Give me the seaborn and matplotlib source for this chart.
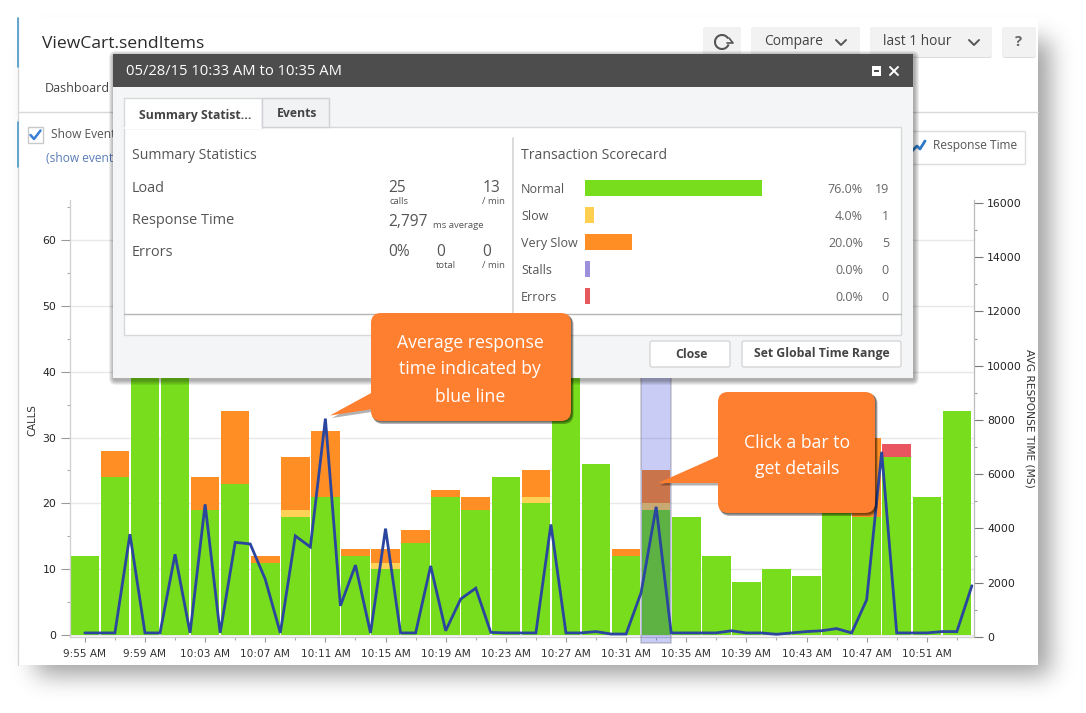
import math
import numpy as np
import pandas as pd
import matplotlib
matplotlib.use("Agg")
import matplotlib.pyplot as plt
from matplotlib.patches import FancyBboxPatch, Rectangle, Polygon, Arc
import seaborn as sns

W, H = 1086, 713

bar_times = ["9:55 AM", "9:57 AM", "9:59 AM", "10:01 AM", "10:03 AM", "10:05 AM", "10:07 AM", "10:09 AM",
             "10:11 AM", "10:13 AM", "10:15 AM", "10:17 AM", "10:19 AM", "10:21 AM", "10:23 AM", "10:25 AM",
             "10:27 AM", "10:29 AM", "10:31 AM", "10:33 AM", "10:35 AM", "10:37 AM", "10:39 AM", "10:41 AM",
             "10:43 AM", "10:45 AM", "10:47 AM", "10:49 AM", "10:51 AM", "10:53 AM"]
normal = [12, 24, 48, 46, 19, 23, 11, 18, 21, 12, 10, 14, 21, 19, 24, 20, 44, 26, 12, 19, 18, 12, 8, 10, 9, 20, 18, 27, 21, 34]
slow = [0, 0, 0, 0, 0, 0, 0, 1, 0, 0, 1, 0, 0, 0, 0, 1, 0, 0, 0, 1, 0, 0, 0, 0, 0, 0, 0, 0, 0, 0]
very_slow = [0, 4, 0, 0, 5, 11, 1, 8, 10, 1, 2, 2, 1, 2, 0, 4, 0, 0, 1, 5, 0, 0, 0, 0, 0, 0, 12, 0, 0, 0]
errors = [0, 0, 0, 0, 0, 0, 0, 0, 0, 0, 0, 0, 0, 0, 0, 0, 0, 0, 0, 0, 0, 0, 0, 0, 0, 0, 0, 2, 0, 0]

# one point per minute, so two for every bar
response_ms = [150, 150, 150, 3790, 150, 150, 3050, 150, 4890, 150, 3490, 3430, 2130, 150, 3725,
               3320, 8050, 1150, 2650, 150, 3995, 150, 150, 2620, 230, 1400, 1800, 170, 150, 150,
               150, 4150, 150, 150, 200, 110, 110, 1640, 4800, 150, 150, 150, 150, 230, 150,
               150, 100, 150, 200, 230, 310, 150, 1370, 6825, 150, 150, 150, 200, 200, 1890]

selected_bar = "10:33 AM"

score_names = ["Normal", "Slow", "Very Slow", "Stalls", "Errors"]
score_pct = [76.0, 4.0, 20.0, 0.0, 0.0]
score_calls = [19, 1, 5, 0, 0]
score_colors = ["#77dd1c", "#ffcf4f", "#ff8f25", "#9c8fdb", "#e65a5f"]

GREEN, YELLOW, ORANGE, RED = "#77dd1c", "#ffd257", "#ff8f25", "#e9565f"
CALLOUT = "#ff7f30"
UI_FONT = "Open Sans"

sns.set_theme(style="white")
plt.rcParams["font.family"] = ["DejaVu Sans"]

fig = plt.figure(figsize=(W / 100, H / 100), dpi=100, facecolor="white")


def px_axes(z):
    a = fig.add_axes([0, 0, 1, 1], zorder=z)
    a.set_xlim(0, W)
    a.set_ylim(H, 0)
    a.axis("off")
    a.patch.set_alpha(0)
    return a


def box(a, x0, y0, x1, y1, fc, ec="none", lw=1, r=0, z=1, alpha=None):
    if r:
        p = FancyBboxPatch((x0 + r, y0 + r), x1 - x0 - 2 * r, y1 - y0 - 2 * r, boxstyle=f"round,pad={r}",
                           fc=fc, ec=ec, lw=lw, zorder=z, alpha=alpha)
    else:
        p = Rectangle((x0, y0), x1 - x0, y1 - y0, fc=fc, ec=ec, lw=lw, zorder=z, alpha=alpha)
    a.add_patch(p)


def soft_shadow(a, x0, y0, x1, y1, spread, dx, dy, z, alpha=0.006):
    for s in range(spread, 0, -1):
        box(a, x0 + dx - s, y0 + dy - s, x1 + dx + s, y1 + dy + s, "black", r=s + 2, z=z, alpha=alpha)


def label(a, x, y, s, px=13, color="#555555", ha="left", va="center", weight="normal", z=20, **kw):
    a.text(x, y + 1.5, s, fontsize=px * 0.72, color=color, ha=ha, va=va, weight=weight, zorder=z,
           family=UI_FONT, **kw)


def blurred_rect(x0, y0, x1, y1, sigma, strength):
    # gaussian blurred rectangle as a grey rgba image
    phi = np.vectorize(lambda d: 0.5 * (1 + math.erf(d / (sigma * math.sqrt(2)))))
    xs, ys = np.arange(W) + 0.5, np.arange(H) + 0.5
    fx = phi(xs - x0) - phi(xs - x1)
    fy = phi(ys - y0) - phi(ys - y1)
    img = np.zeros((H, W, 4))
    img[..., 3] = strength * np.outer(fy, fx)
    return img


# page card behind the chart
bg = px_axes(0)
bg.imshow(blurred_rect(36, 40, 1050, 675, 12, 0.38), extent=(0, W, H, 0), aspect="auto", zorder=1)
bg.set_xlim(0, W)
bg.set_ylim(H, 0)
box(bg, 18, 18, 1038, 665, "white", z=2)
bg.plot([18, 1038], [112, 112], color="#d9d9d9", lw=1, zorder=3)
bg.plot([17.5, 17.5], [18, 665], color="#d5d5d5", lw=0.9, zorder=3)
bg.plot([17.5, 17.5], [18, 67], color="#4a9ac8", lw=1.2, zorder=4)
bg.plot([17.5, 17.5], [122, 167], color="#4a9ac8", lw=1.2, zorder=4)

# main chart, left axis calls, right axis response time
ax = fig.add_axes([69.5 / W, 1 - 637 / H, (974 - 69.5) / W, (637 - 200) / H], zorder=1)
ax.patch.set_alpha(0)

bars = pd.DataFrame({"time": bar_times, "normal": normal, "slow": slow, "very_slow": very_slow, "errors": errors})
bottom = np.zeros(len(bars))
for col, c in [("normal", GREEN), ("slow", YELLOW), ("very_slow", ORANGE), ("errors", RED)]:
    sns.barplot(data=bars, x="time", y=col, color=c, saturation=1, width=0.95, bottom=bottom, ax=ax,
                zorder=2, linewidth=0)
    bottom = bottom + bars[col].to_numpy()

ax.set_xlim(-0.51, 29.57)
ax.set_ylim(-0.3, 66.08)
ax.set_xticks(range(0, len(bar_times), 2))
ax.set_xticklabels(bar_times[::2])
ax.set_xticks(range(1, len(bar_times), 2), minor=True)
ax.set_yticks(range(0, 70, 10))
ax.set_yticks(range(5, 70, 10), minor=True)
ax.set_xlabel("")
ax.set_ylabel("CALLS", fontsize=7.4, color="#333333", va="center")
ax.yaxis.set_label_coords(-0.0405, 0.4966)
ax.grid(axis="y", color="#e8e8e8", lw=1)
ax.set_axisbelow(True)
ax.tick_params(axis="x", which="major", length=3.6, width=0.8, color="#999999", labelsize=7.6, labelcolor="#333333", pad=5, bottom=True)
ax.tick_params(axis="x", which="minor", length=2, width=0.8, color="#aaaaaa", bottom=True)
ax.tick_params(axis="y", which="major", length=6.5, width=0.8, color="#999999", labelsize=7.8, labelcolor="#222222", pad=3, left=True)
ax.tick_params(axis="y", which="minor", length=2, width=0.8, color="#aaaaaa", left=True)
for s in ["top", "right"]:
    ax.spines[s].set_visible(False)
for s in ["left", "bottom"]:
    ax.spines[s].set_color("#cfcfcf")
    ax.spines[s].set_linewidth(0.9)

sel = bar_times.index(selected_bar)
ax.axvspan(sel - 0.49, sel + 0.49, ymin=-0.014, ymax=1, clip_on=False, zorder=3,
           facecolor=(0.0, 0.08, 0.85, 0.21), edgecolor=(0.45, 0.45, 0.5, 0.35), lw=1.2)

ax2 = ax.twinx()
ax2.set_zorder(2)
ax2.patch.set_alpha(0)
line = pd.DataFrame({"slot": np.arange(len(response_ms)) / 2, "ms": response_ms})
sns.lineplot(data=line, x="slot", y="ms", color="#2a469f", lw=2.0, errorbar=None, ax=ax2, solid_joinstyle="miter")
ax2.set_ylim(36.8, 16109)
ax2.set_yticks(range(0, 16001, 2000))
ax2.set_yticks(range(1000, 16000, 2000), minor=True)
ax2.set_xlabel("")
ax2.set_ylabel("AVG RESPONSE TIME (MS)", fontsize=7.7, color="#333333", rotation=270, va="center")
ax2.yaxis.set_label_coords(1.0615, 0.501)
ax2.tick_params(axis="y", which="major", length=6.5, width=0.8, color="#777777", labelsize=7.8, labelcolor="#222222", pad=3, right=True)
ax2.tick_params(axis="y", which="minor", length=2, width=0.8, color="#999999", right=True)
for s in ["top", "left", "bottom"]:
    ax2.spines[s].set_visible(False)
ax2.spines["right"].set_color("#bbbbbb")
ax2.spines["right"].set_linewidth(0.9)

# screen elements on top of the chart
ui = px_axes(5)

# header, everything here sits under the dialog
label(ui, 42, 42, "ViewCart.sendItems", px=17.5, color="#2b2b2b", z=4)
label(ui, 45, 87, "Dashboard", px=12.5, color="#444444", z=4)
for x0, x1 in [(703, 741), (751, 860), (870, 992), (1002.5, 1036)]:
    box(ui, x0, 27, x1, 58, "#dcdcdc", r=3, z=2)
    box(ui, x0, 27, x1, 57, "#f2f2f2", r=3, z=3)
label(ui, 764, 40, "Compare", px=13.8, color="#444444", z=4)
label(ui, 883, 40, "last 1 hour", px=13.8, color="#444444", z=4)
label(ui, 1019, 41, "?", px=15, color="#666666", ha="center", weight="bold", z=4)
for cx in [841, 974]:
    ui.plot([cx - 5, cx, cx + 5], [40, 45, 40], color="#555555", lw=1.4, zorder=4)
ui.add_patch(Arc((722, 42), 14, 14, theta1=20, theta2=330, color="#555555", lw=1.5, zorder=4))
ui.plot([727, 733, 729], [43, 43, 38], color="#555555", lw=1.2, zorder=4)

# show events + legend
box(ui, 27.5, 127, 43, 143, "white", ec="#c9c9c9", z=3)
ui.plot([30.5, 34, 40.5], [135, 139, 130.5], color="#3a7fd5", lw=1.8, zorder=4)
label(ui, 51, 132.5, "Show Events", px=12, color="#555555", z=4)
label(ui, 46, 157.5, "(show events", px=12, color="#5b7db8", z=4)
box(ui, 905, 131, 1025, 164, "white", ec="#dddddd", z=3)
ui.plot([912, 917, 920, 925], [151, 146, 149, 141], color="#2f78c8", lw=2, zorder=4)
label(ui, 933, 143.5, "Response Time", px=12, color="#555555", z=4)

# dialog
soft_shadow(ui, 113, 54, 913, 378, 5, 1, 2, 6, alpha=0.07)
box(ui, 113, 54, 913, 378, "#f4f5f7", z=7)
box(ui, 113, 54, 913, 87, "#4d4d4d", z=8)
label(ui, 126, 70, "05/28/15 10:33 AM to 10:35 AM", px=14.8, color="white")
box(ui, 871.5, 66, 881, 76, "white", z=9)
box(ui, 873.5, 69.5, 879, 72, "#4d4d4d", z=10)
ui.plot([890, 898], [67, 75], color="white", lw=1.4, zorder=9)
ui.plot([890, 898], [75, 67], color="white", lw=1.4, zorder=9)

box(ui, 124, 127, 901, 335, "white", ec="#d6d8da", z=8)
box(ui, 124, 98, 262, 128, "white", ec="#d6d8da", z=9)
box(ui, 262, 98, 329, 127, "#f1f2f4", ec="#cfd1d4", z=9)
ui.plot([124.6, 261.4], [127.5, 127.5], color="white", lw=1.5, zorder=10)
label(ui, 139, 113.5, "Summary Statist...", px=12.2, color="#444444", weight="bold")
label(ui, 277, 112, "Events", px=12.2, color="#444444", weight="bold")
ui.plot([513, 513], [138, 313], color="#d4d4d4", lw=1.2, zorder=9)
ui.plot([124, 901], [313.5, 313.5], color="#b5b5b5", lw=1, zorder=9)

label(ui, 132, 154, "Summary Statistics", px=14)
label(ui, 521, 154, "Transaction Scorecard", px=14)
for y, s in [(187, "Load"), (219, "Response Time"), (251, "Errors")]:
    label(ui, 132, y, s, px=14.5)
label(ui, 388, 186, "25", px=15.5)
label(ui, 389, 200, "calls", px=9.5)
label(ui, 483, 186, "13", px=15.5)
label(ui, 482, 200, "/ min", px=9.5)
label(ui, 388, 220, "2,797", px=15.5)
label(ui, 433, 224, "ms average", px=9.5)
label(ui, 388, 250, "0%", px=15.5)
label(ui, 436, 250, "0", px=15.5)
label(ui, 436, 264, "total", px=9.5)
label(ui, 482, 250, "0", px=15.5)
label(ui, 482, 264, "/ min", px=9.5)

box(ui, 650, 341, 730, 367, "white", ec="#d6d6d6", r=2, z=9)
box(ui, 742, 341, 901, 367, "white", ec="#d6d6d6", r=2, z=9)
label(ui, 691, 352.5, "Close", px=12.2, color="#444444", ha="center", weight="bold")
label(ui, 822, 352.5, "Set Global Time Range", px=12.2, color="#444444", ha="center", weight="bold")

for i, name in enumerate(score_names):
    y = 188 + 27 * i
    label(ui, 521, y, name, px=12.5)
    label(ui, 863, y, f"{score_pct[i]:.1f}%", px=12.5, color="#666666", ha="right")
    label(ui, 889, y, str(score_calls[i]), px=12.5, color="#666666", ha="right")

# scorecard bars in their own small axes, 2.33 px per percent and a stub for empty rows
sc = fig.add_axes([585 / W, 1 - 309.5 / H, 233 / W, 135 / H], zorder=6)
sc.axis("off")
sc.patch.set_alpha(0)
shown = [max(p, 2) for p in score_pct]
sns.barplot(x=shown, y=score_names, hue=score_names, palette=score_colors, saturation=1, width=0.556,
            orient="h", legend=False, ax=sc, linewidth=0)
sc.set_xlim(0, 100)

# callouts
top = px_axes(7)
for pts, (x0, y0, x1, y1), lines, cx, ys in [
    ([(373, 392), (330, 415.5), (373, 409)], (371, 313, 571, 421),
     ["Average response", "time indicated by", "blue line"], 470, [341, 368, 395]),
    ([(721, 455), (658, 483), (722, 483)], (718, 392, 875, 513),
     ["Click a bar to", "get details"], 797, [441, 468]),
]:
    off = np.array(pts) + [2, 2.5]
    top.add_patch(Polygon(off, fc="black", alpha=0.3, ec="none", zorder=1))
    box(top, x0 + 2, y0 + 2, x1 + 2.5, y1 + 3, "black", r=10, z=2, alpha=0.3)
    box(top, x0 + 1, y0 + 1, x1 + 1.5, y1 + 1.5, "black", r=10, z=2, alpha=0.35)
    box(top, x0, y0, x1, y1, CALLOUT, r=10, z=3)
    top.add_patch(Polygon(pts, fc=CALLOUT, ec="none", zorder=4))
    for s, y in zip(lines, ys):
        label(top, cx, y, s, px=17.6, color="white", ha="center", z=5)

fig.savefig("out.png", dpi=100)
